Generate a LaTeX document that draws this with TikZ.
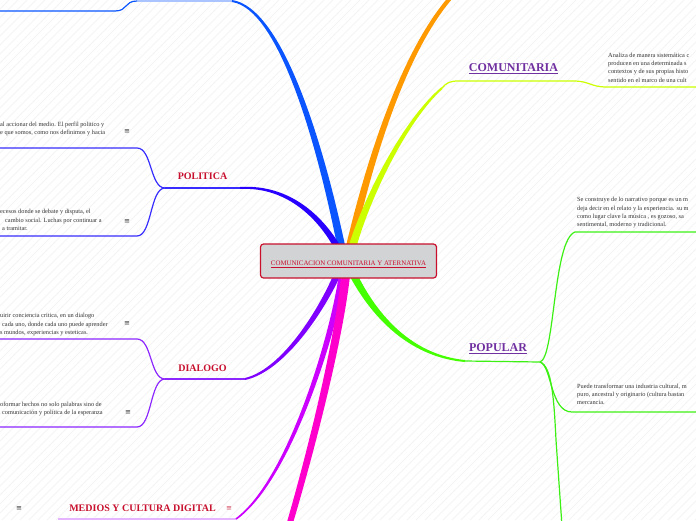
\documentclass[tikz,border=0pt]{standalone}
\usepackage{fontspec}
\setmainfont{Liberation Serif}
\newfontfamily\symfont{DejaVu Sans}
\usetikzlibrary{calc}
\definecolor{crim}{RGB}{200,16,46}
\definecolor{lblpurple}{RGB}{112,48,160}
\definecolor{txtgray}{RGB}{51,51,51}
\definecolor{boxgray}{RGB}{209,211,212}
\definecolor{cBlue}{RGB}{10,85,255}
\definecolor{cBlueLight}{RGB}{170,196,255}
\definecolor{cOrange}{RGB}{255,153,0}
\definecolor{cLime}{RGB}{204,255,0}
\definecolor{cGreen}{RGB}{68,255,0}
\definecolor{cGreenThin}{RGB}{60,240,20}
\definecolor{cDeep}{RGB}{40,0,255}
\definecolor{cDeepThin}{RGB}{55,45,255}
\definecolor{cViolet}{RGB}{127,0,255}
\definecolor{cVioletThin}{RGB}{140,40,255}
\definecolor{cPurple}{RGB}{204,0,255}
\definecolor{cPurpleLight}{RGB}{230,180,255}
\definecolor{cPink}{RGB}{255,0,204}
\definecolor{stripecol}{RGB}{244,244,244}
\newcommand\mmbranch[7]{%
 \pgfmathsetmacro\mmwa{#6*0.7+#7*0.3}%
 \pgfmathsetmacro\mmwb{#6*0.3+#7*0.7}%
 \fill[#1] ($(#2)!#6pt!90:(#3)$) .. controls ($(#3)!\mmwa pt!90:(#4)$) and ($(#4)!\mmwb pt!-90:(#3)$) .. ($(#5)!#7pt!-90:(#4)$) -- ($(#5)!#7pt!90:(#4)$) .. controls ($(#4)!\mmwb pt!90:(#3)$) and ($(#3)!\mmwa pt!-90:(#4)$) .. ($(#2)!#6pt!-90:(#3)$) -- cycle;}
\tikzset{
  stripe/.style={draw=stripecol,line width=0.8pt},
  thinline/.style={line width=1.2pt},
  rootbox/.style={draw=crim,fill=boxgray,line width=1.2pt,rounded corners=3pt,minimum width=176pt,minimum height=34pt,inner sep=0pt},
  roottext/.style={text=crim,font=\fontsize{6.9}{8}\selectfont,inner sep=0pt},
  leftlabel/.style={text=crim,font=\fontsize{10}{12}\selectfont\bfseries,inner sep=0pt},
  rightlabel/.style={text=lblpurple,font=\fontsize{12}{14}\selectfont\bfseries,inner sep=0pt},
  bodytext/.style={text=txtgray,font=\fontsize{6.3}{8.3}\selectfont,align=left,anchor=north west,inner sep=0pt},
  menuicon/.style={text=txtgray,font=\symfont\fontsize{7}{8}\selectfont,inner sep=0pt},
}
\begin{document}
\begin{tikzpicture}[x=1pt,y=-1pt]
\useasboundingbox (0,0) rectangle (696,520);
\begin{scope}
\clip (0,0) rectangle (696,520);
\fill[white] (0,0) rectangle (696,520);
\foreach \i in {-520,-511,...,700} \draw[stripe] (\i,520) -- ++(520,-520);
\end{scope}

% ---------- coordinates ----------
\coordinate (bl0) at (343,255); \coordinate (bl1) at (320,140); \coordinate (bl2) at (280,8); \coordinate (bl3) at (232,1);
\coordinate (blU) at (137,1); \coordinate (blC) at (0,11);
\coordinate (or0) at (348,255); \coordinate (or1) at (360,200); \coordinate (or2) at (395,60); \coordinate (or3) at (452,-4);
\coordinate (li0) at (350,255); \coordinate (li1) at (365,200); \coordinate (li2) at (405,120); \coordinate (li3) at (442,88);
\coordinate (liU) at (573,81); \coordinate (liC) at (696,87);
\coordinate (gr0) at (350,268); \coordinate (gr1) at (365,300); \coordinate (gr2) at (400,355); \coordinate (gr3) at (465,361);
\coordinate (grU) at (540,362);
\coordinate (grA) at (575,232); \coordinate (grAe) at (696,232);
\coordinate (grB) at (572,412); \coordinate (grBe) at (696,412);
\coordinate (grC) at (556,440); \coordinate (grCe) at (562,526);
\coordinate (db0) at (343,258); \coordinate (db1) at (325,220); \coordinate (db2) at (290,185); \coordinate (db3) at (240,188);
\coordinate (dbU) at (165,188);
\coordinate (dbA) at (137,148); \coordinate (dbAe) at (0,148);
\coordinate (dbB) at (137,236); \coordinate (dbBe) at (0,236);
\coordinate (vi0) at (340,268); \coordinate (vi1) at (325,305); \coordinate (vi2) at (285,370); \coordinate (vi3) at (245,379);
\coordinate (viU) at (165,379);
\coordinate (viA) at (137,339); \coordinate (viAe) at (0,339);
\coordinate (viB) at (137,427); \coordinate (viBe) at (0,427);
\coordinate (pu0) at (343,270); \coordinate (pu1) at (335,330); \coordinate (pu2) at (290,480); \coordinate (pu3) at (236,519);
\coordinate (puU) at (58,519);
\coordinate (pk0) at (346,270); \coordinate (pk1) at (342,320); \coordinate (pk2) at (320,420); \coordinate (pk3) at (289,526);

% ---------- thin connectors ----------
\draw[thinline,cBlueLight] (bl3) -- (blU);
\draw[thinline,cBlue] (blU) .. controls (124,1) and (128,11) .. (115,11) -- (blC);
\draw[thinline,cLime] (li3) .. controls (446,83) and (450,81) .. (458,81) -- (liU) .. controls (590,81) and (590,87) .. (607,87) -- (liC);
\draw[thinline,cGreenThin] (gr3) -- (grU);
\draw[thinline,cGreenThin] (grU) .. controls (555,358) and (553,240) .. (grA) -- (grAe);
\draw[thinline,cGreenThin] (grU) .. controls (552,366) and (550,412) .. (grB) -- (grBe);
\draw[thinline,cGreenThin] (grU) .. controls (552,366) and (554,400) .. (grC) -- (grCe);
\draw[thinline,cDeepThin] (db3) -- (dbU);
\draw[thinline,cDeepThin] (dbU) .. controls (150,188) and (152,148) .. (dbA) -- (dbAe);
\draw[thinline,cDeepThin] (dbU) .. controls (150,188) and (152,236) .. (dbB) -- (dbBe);
\draw[thinline,cVioletThin] (vi3) -- (viU);
\draw[thinline,cVioletThin] (viU) .. controls (150,379) and (152,339) .. (viA) -- (viAe);
\draw[thinline,cVioletThin] (viU) .. controls (150,379) and (152,427) .. (viB) -- (viBe);
\draw[thinline,cPurpleLight] (pu3) -- (puU);

% ---------- thick branches ----------
\mmbranch{cBlue}{bl0}{bl1}{bl2}{bl3}{4}{1}
\mmbranch{cDeep}{db0}{db1}{db2}{db3}{3.5}{1}
\mmbranch{cOrange}{or0}{or1}{or2}{or3}{4}{2}
\mmbranch{cLime}{li0}{li1}{li2}{li3}{4}{1}
\mmbranch{cGreen}{gr0}{gr1}{gr2}{gr3}{4}{1}
\mmbranch{cViolet}{vi0}{vi1}{vi2}{vi3}{3.5}{1}
\mmbranch{cPurple}{pu0}{pu1}{pu2}{pu3}{3.5}{0.8}
\mmbranch{cPink}{pk0}{pk1}{pk2}{pk3}{4.5}{3}

% ---------- root ----------
\node[rootbox] (root) at (348.5,261) {};
\node[roottext] (rootlbl) at ($(root.center)+(0,3)$) {\underline{COMUNICACION COMUNITARIA Y ATERNATIVA}};

% ---------- labels ----------
\node[leftlabel] (politica) at (202.5,176.5) {POLITICA};
\node[leftlabel] (dialogo) at (202.5,368) {DIALOGO};
\node[leftlabel] (medios) at (142.5,508.5) {MEDIOS Y CULTURA DIGITAL};
\node[menuicon,text=crim!80] (mediosicon) at (229,509) {≡};
\node[menuicon] (mediosicon2) at (19,509) {≡};
\node[rightlabel] (comunitaria) at (513.5,68.5) {\underline{COMUNITARIA}};
\node[rightlabel] (popular) at (498,348.5) {\underline{POPULAR}};

% ---------- body texts ----------
\node[bodytext] (polA) at (0,121.4) {al accionar del medio. El perfil politico y\\e que somos, como nos definimos y hacia};
\node[menuicon] (polAi) at (127,132) {≡};
\node[bodytext] (polB) at (0,209.4) {ecesos donde se debate y disputa, el\\\hspace*{5pt}cambio social. Luchas por continuar a\\\hspace*{2pt}a tramitar.};
\node[menuicon] (polBi) at (127,222) {≡};
\node[bodytext] (diaA) at (0,313.4) {uirir conciencia critica, en un dialogo\\\hspace*{2pt}cada uno, donde cada uno puede aprender\\s mundos, experiencias y esteticas.};
\node[menuicon] (diaAi) at (127,324) {≡};
\node[bodytext] (diaB) at (0,401.4) {oformar hechos no solo palabras sino de\\\hspace*{2pt}comunicación y política de la esperanza};
\node[menuicon] (diaBi) at (128,413) {≡};
\node[bodytext] (comA) at (608,52.6) {Analiza de manera sistemática c\\producen en una determinada s\\contextos y de sus propias histo\\sentido en el marco de una cult};
\node[bodytext] (popA) at (577,197.2) {Se construye de lo narrativo porque es un m\\deja decir en el relato y la experiencia. su m\\como lugar clave la música , es gozoso, sa\\sentimental, moderno y tradicional.};
\node[bodytext] (popB) at (577,383.4) {Puede transformar una industria cultural, m\\puro, ancestral y originario (cultura bastan\\mercancia.};
\end{tikzpicture}
\end{document}
